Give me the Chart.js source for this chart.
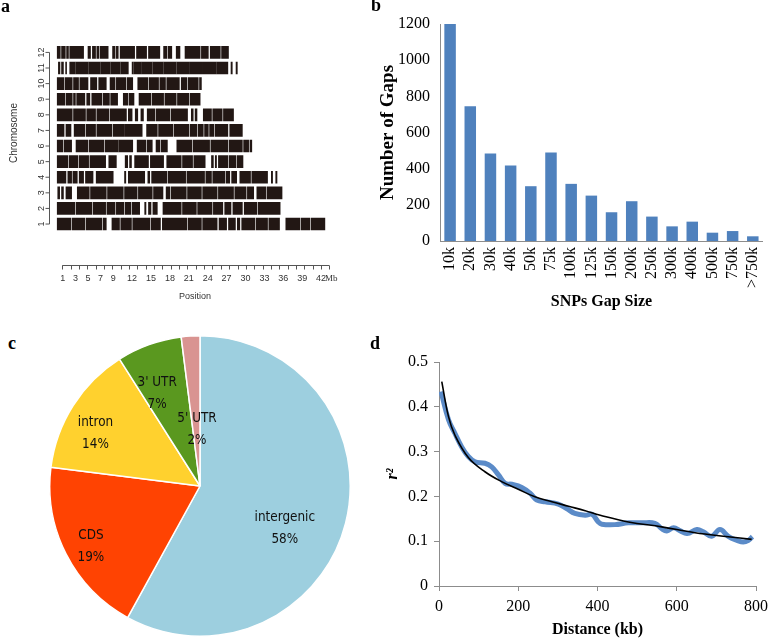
<!DOCTYPE html>
<html>
<head>
<meta charset="utf-8">
<title>SNP density, gap sizes, annotation and LD decay</title>
<script src="https://cdn.jsdelivr.net/npm/chart.js@4.4.1/dist/chart.umd.min.js"></script>
<style>
  html, body { margin: 0; padding: 0; background: #fff; }
  body { position: relative; width: 778px; height: 638px; overflow: hidden; }
  canvas { position: absolute; }
  .tag { position: absolute; z-index: 2; font: bold 18px "Liberation Serif", serif; line-height: 1; color: #000; }
</style>
</head>
<body>
<canvas id="chart-a" width="345" height="310" style="left:0;top:0"></canvas>
<canvas id="chart-b" width="408" height="318" style="left:370px;top:0"></canvas>
<canvas id="chart-c" width="302" height="302" style="left:49px;top:335px"></canvas>
<canvas id="chart-d" width="398" height="308" style="left:380px;top:330px"></canvas>
<div class="tag" style="left:1px;top:-3px">a</div>
<div class="tag" style="left:371px;top:-4px">b</div>
<div class="tag" style="left:8px;top:334px">c</div>
<div class="tag" style="left:370px;top:334px">d</div>
<script>
// --- a: SNP blocks along each chromosome (Mb) ---
const chrNames = ['1','2','3','4','5','6','7','8','9','10','11','12'];
const chr1  = [[0.1,2.3],[2.5,4.5],[4.7,7.2],[7.4,7.9],[8.8,10.0],[10.2,11.9],[12.1,14.8],[15.0,16.5],[16.8,20.7],[20.9,23.0],[23.2,25.5],[25.8,27.0],[27.3,28.4],[28.7,29.1],[29.4,31.5],[31.7,33.5],[33.7,35.4],[36.4,38.6],[38.8,40.2],[40.4,42.6]];
const chr2  = [[0.1,2.9],[3.1,5.6],[5.8,7.8],[8.0,9.3],[9.5,10.7],[10.9,11.8],[12.0,13.2],[14.0,14.2],[14.6,15.0],[15.3,16.0],[16.9,19.8],[20.0,22.2],[22.4,24.7],[24.9,26.4],[26.7,27.7],[28.0,29.5],[29.8,31.8],[32.0,35.5]];
const chr3  = [[0.2,0.5],[0.8,1.1],[1.5,2.4],[3.3,5.2],[5.4,7.9],[8.1,10.6],[10.8,12.8],[13.0,15.2],[15.4,16.9],[17.4,18.0],[18.2,20.6],[20.8,23.0],[23.2,25.5],[25.7,28.1],[28.3,30.1],[30.3,31.3],[31.8,33.2],[33.4,35.8]];
const chr4  = [[0.1,1.5],[1.8,2.4],[2.6,3.3],[3.6,4.3],[4.6,5.8],[6.3,9.0],[10.8,11.0],[11.4,14.0],[14.5,14.8],[15.1,17.5],[17.7,20.5],[20.7,23.5],[23.7,24.6],[24.8,26.7],[26.9,27.5],[27.8,28.6],[29.1,30.8],[31.0,33.5],[34.1,34.3],[34.8,35.0]];
const chr5  = [[0.1,1.8],[2.0,3.4],[3.6,5.1],[5.3,7.8],[8.3,9.5],[10.9,11.3],[11.6,11.9],[12.4,14.6],[14.9,17.0],[17.5,19.8],[20.0,21.6],[21.8,23.6],[24.6,24.9],[25.2,25.4],[25.7,27.2],[27.4,28.5],[28.7,29.6]];
const chr6  = [[0.1,1.0],[1.2,2.4],[3.1,5.0],[5.2,7.5],[7.7,9.8],[9.9,12.1],[12.8,14.2],[14.4,15.2],[15.8,16.4],[16.6,17.6],[19.1,21.5],[21.7,24.3],[24.5,27.2],[27.4,29.5],[29.7,30.5],[30.7,31.0]];
const chr7  = [[0.1,1.2],[1.5,2.3],[2.8,4.5],[4.7,6.2],[6.4,8.8],[9.0,10.8],[10.9,13.6],[14.3,16.0],[16.2,18.5],[18.7,21.0],[21.2,22.3],[22.5,23.3],[23.5,24.1],[24.3,25.0],[25.2,27.2],[27.5,29.5]];
const chr8  = [[0.1,2.5],[2.7,4.6],[4.8,6.2],[6.4,8.3],[8.5,11.1],[11.4,12.0],[12.5,12.9],[13.4,13.8],[14.4,15.6],[15.8,18.0],[18.2,20.8],[21.4,21.7],[22.0,22.3],[23.3,24.6],[24.8,26.3],[26.5,28.1]];
const chr9  = [[0.1,1.3],[1.5,2.5],[2.7,3.0],[3.2,4.5],[4.8,5.3],[5.6,7.2],[7.4,8.4],[8.6,9.7],[10.6,11.3],[11.5,12.3],[13.1,15.0],[15.2,17.0],[17.2,19.0],[19.2,21.0],[21.2,22.8]];
const chr10 = [[0.1,1.2],[1.4,2.5],[2.7,3.5],[3.7,5.0],[5.4,6.4],[6.7,7.9],[8.5,9.3],[9.5,11.0],[11.2,12.1],[12.9,14.5],[14.7,16.2],[16.4,17.3],[17.5,19.5],[19.8,20.7],[20.9,22.5],[22.7,23.0]];
const chr11 = [[0.3,0.55],[0.8,1.1],[1.45,1.6],[2.1,3.0],[3.1,5.0],[5.1,6.9],[7.0,8.5],[8.6,10.1],[10.2,11.4],[12.0,12.2],[12.3,13.5],[13.6,15.2],[15.3,16.9],[17.0,19.0],[19.1,21.0],[21.1,23.2],[23.3,25.3],[25.4,27.2],[27.7,27.9],[28.5,28.7]];
const chr12 = [[0.1,0.6],[0.8,1.4],[1.6,1.9],[2.1,4.3],[5.0,5.4],[5.7,6.2],[6.4,6.7],[6.9,8.2],[8.9,9.3],[9.5,9.8],[10.1,12.4],[12.7,14.3],[14.6,16.4],[17.0,17.5],[17.7,18.3],[19.0,19.6],[20.4,22.8],[23.0,24.1],[24.4,26.0],[26.2,27.3]];
const chrBlocks = [chr1, chr2, chr3, chr4, chr5, chr6, chr7, chr8, chr9, chr10, chr11, chr12];
const posTicks = [1, 3, 5, 7, 9, 12, 15, 18, 21, 24, 27, 30, 33, 36, 39, 42];

// --- b: SNP gap size histogram ---
const gapSizes  = ['10k','20k','30k','40k','50k','75k','100k','125k','150k','200k','250k','300k','400k','500k','750k','>750k'];
const gapCounts = [1200, 745, 484, 417, 303, 489, 316, 251, 159, 220, 135, 81, 107, 46, 55, 26];

// --- c: SNP annotation ---
const regions      = ['intergenic', 'CDS', 'intron', "3' UTR", "5' UTR"];
const regionShares = [58, 19, 14, 7, 2];
const regionColors = ['#9dcfdf', '#ff4302', '#ffd12e', '#5a981f', '#d99491'];
// label placement: [fraction of radius, angle shift in degrees]
const regionLabelPlace = [[0.63, 12], [0.83, -2], [0.78, -5.5], [0.68, -5], [0.38, 0.6]];

// --- d: LD decay ---
const ldDistance = [5, 24, 40, 57, 74, 91, 116, 133, 150, 167, 184, 209, 230, 247, 268, 301, 322, 343, 369, 386, 402, 411, 444, 478, 512, 545, 562, 575, 592, 609, 626, 651, 667, 688, 709, 730, 752, 768, 781, 791];
const ldR2       = [0.434, 0.371, 0.341, 0.311, 0.289, 0.277, 0.274, 0.266, 0.248, 0.229, 0.227, 0.220, 0.207, 0.192, 0.188, 0.183, 0.173, 0.162, 0.158, 0.160, 0.143, 0.138, 0.137, 0.141, 0.141, 0.140, 0.128, 0.123, 0.130, 0.123, 0.117, 0.126, 0.121, 0.111, 0.126, 0.111, 0.102, 0.098, 0.102, 0.110];
const trendDistance = [7, 24, 40, 74, 116, 158, 200, 242, 285, 327, 369, 407, 478, 562, 646, 730, 789];
const trendR2       = [0.456, 0.378, 0.337, 0.287, 0.255, 0.233, 0.216, 0.199, 0.188, 0.178, 0.168, 0.158, 0.143, 0.132, 0.119, 0.110, 0.104];

Chart.defaults.font.family = '"Liberation Serif", serif';
Chart.defaults.color = '#000';
const serif16 = { family: '"Liberation Serif", serif', size: 16 };
const axisGrey = '#8c8c8c';

// R-style axes for panel a (offset y axis, rotated labels, minor ticks)
const rAxes = {
  id: 'rAxes',
  afterDraw(chart) {
    const { ctx, chartArea, scales: { x, y } } = chart;
    ctx.save();
    ctx.strokeStyle = '#555';
    ctx.lineWidth = 1;
    const ax = Math.round(chartArea.left - 7.5) + 0.5;
    ctx.beginPath();
    ctx.moveTo(ax, y.getPixelForValue(1));
    ctx.lineTo(ax, y.getPixelForValue(12));
    chrNames.forEach((n, i) => {
      const py = y.getPixelForValue(i + 1);
      ctx.moveTo(ax, py); ctx.lineTo(ax - 4, py);
    });
    const ay = Math.round(chartArea.bottom) - 0.5;
    const x0 = x.getPixelForValue(0.92), x1 = x.getPixelForValue(43.3);
    ctx.moveTo(x0, ay); ctx.lineTo(x1, ay);
    for (let k = 0; k <= 32; k++) {
      const px = Math.round(x0 + (x1 - x0) * k / 32) + 0.5;
      ctx.moveTo(px, ay); ctx.lineTo(px, ay + 4);
    }
    ctx.stroke();

    ctx.fillStyle = '#333';
    ctx.font = '9px "Liberation Sans", sans-serif';
    ctx.textAlign = 'center';
    ctx.textBaseline = 'middle';
    chrNames.forEach((n, i) => {
      ctx.save();
      ctx.translate(ax - 8, y.getPixelForValue(i + 1));
      ctx.rotate(-Math.PI / 2);
      ctx.fillText(n, 0, 0);
      ctx.restore();
    });
    ctx.save();
    ctx.font = '10px "Liberation Sans", sans-serif';
    ctx.translate(14, 133);
    ctx.rotate(-Math.PI / 2);
    ctx.fillText('Chromosome', 0, 0);
    ctx.restore();
    ctx.font = '9px "Liberation Serif", serif';
    ctx.textAlign = 'left';
    ctx.fillText('Mb', x.getPixelForValue(42) + 4, ay + 13);
    ctx.restore();
  }
};

new Chart(document.getElementById('chart-a'), {
  type: 'bar',
  data: {
    datasets: [{
      data: chrBlocks.flatMap((blocks, i) => blocks.map(b => ({ x: b, y: i + 1 }))),
      backgroundColor: '#221714',
      borderWidth: 0,
      barThickness: 12
    }]
  },
  options: {
    indexAxis: 'y',
    responsive: false,
    animation: false,
    devicePixelRatio: 1,
    layout: { padding: { top: 27.6, right: 11.3, left: 0, bottom: 0 } },
    plugins: { legend: { display: false }, tooltip: { enabled: false } },
    scales: {
      x: {
        type: 'linear', min: 0, max: 44,
        grid: { display: false, drawTicks: false },
        border: { display: false },
        afterBuildTicks: s => { s.ticks = posTicks.map(v => ({ value: v })); },
        ticks: { font: { family: '"Liberation Sans", sans-serif', size: 9 }, color: '#333', padding: 7, maxRotation: 0, autoSkip: false },
        title: { display: true, text: 'Position', color: '#333', font: { family: '"Liberation Sans", sans-serif', size: 9 }, padding: { top: 0, bottom: 7.6 } },
        afterFit: s => { s.height = 44.3; }
      },
      y: {
        type: 'linear', min: -0.58, max: 12.5,
        grid: { display: false, drawTicks: false },
        border: { display: false },
        ticks: { display: false },
        afterFit: s => { s.width = 56.5; }
      }
    }
  },
  plugins: [rAxes]
});

new Chart(document.getElementById('chart-b'), {
  type: 'bar',
  data: {
    labels: gapSizes,
    datasets: [{ data: gapCounts, backgroundColor: '#4f81bd', barPercentage: 0.57, categoryPercentage: 1 }]
  },
  options: {
    responsive: false,
    animation: false,
    devicePixelRatio: 1,
    layout: { padding: { top: 24, right: 0, left: 0, bottom: 0 } },
    plugins: { legend: { display: false }, tooltip: { enabled: false } },
    scales: {
      x: {
        grid: { display: false, drawTicks: false },
        border: { color: axisGrey },
        ticks: { minRotation: 90, maxRotation: 90, autoSkip: false, padding: 6, font: serif16, color: '#000' },
        title: { display: true, text: 'SNPs Gap Size', color: '#000', font: { ...serif16, weight: 'bold' }, padding: { top: 0, bottom: 6.4 } },
        afterFit: s => { s.height = 77; }
      },
      y: {
        min: 0, max: 1200,
        grid: { display: false, drawTicks: false },
        border: { color: axisGrey },
        ticks: { stepSize: 200, padding: 10, font: serif16, color: '#000', callback: v => String(v) },
        title: { display: true, text: 'Number of Gaps', color: '#000', font: { family: '"Liberation Serif", serif', size: 19, weight: 'bold' }, padding: { top: 6.6, bottom: 0 } },
        afterFit: s => { s.width = 70; }
      }
    }
  }
});

const pieLabels = {
  id: 'pieLabels',
  afterDatasetsDraw(chart) {
    const { ctx } = chart;
    const meta = chart.getDatasetMeta(0);
    ctx.save();
    ctx.fillStyle = '#111';
    ctx.font = '14px "DejaVu Sans", sans-serif';
    ctx.textAlign = 'center';
    ctx.textBaseline = 'middle';
    meta.data.forEach((arc, i) => {
      const p = arc.getProps(['x', 'y', 'startAngle', 'endAngle', 'outerRadius'], true);
      const [frac, shift] = regionLabelPlace[i];
      const a = (p.startAngle + p.endAngle) / 2 + shift * Math.PI / 180;
      const r = p.outerRadius * frac;
      ctx.save();
      ctx.translate(p.x + r * Math.cos(a), p.y + r * Math.sin(a));
      ctx.scale(0.86, 1);
      ctx.fillText(regions[i], 0, -11);
      ctx.fillText(regionShares[i] + '%', 0, 11);
      ctx.restore();
    });
    ctx.restore();
  }
};

new Chart(document.getElementById('chart-c'), {
  type: 'pie',
  data: {
    labels: regions,
    datasets: [{ data: regionShares, backgroundColor: regionColors, borderColor: '#fff', borderWidth: 1.5 }]
  },
  options: {
    responsive: false,
    animation: false,
    devicePixelRatio: 1,
    layout: { padding: 0 },
    plugins: { legend: { display: false }, tooltip: { enabled: false } }
  },
  plugins: [pieLabels]
});

new Chart(document.getElementById('chart-d'), {
  type: 'line',
  data: {
    datasets: [
      {
        data: trendDistance.map((d, i) => ({ x: d, y: trendR2[i] })),
        borderColor: '#000', borderWidth: 1.6, pointRadius: 0, tension: 0.4, fill: false, order: 0
      },
      {
        data: ldDistance.map((d, i) => ({ x: d, y: ldR2[i] })),
        borderColor: '#5b8bc8', borderWidth: 5, pointRadius: 0, tension: 0.4, fill: false, order: 1
      }
    ]
  },
  options: {
    responsive: false,
    animation: false,
    devicePixelRatio: 1,
    layout: { padding: { top: 32, right: 22, left: 0, bottom: 0 } },
    plugins: { legend: { display: false }, tooltip: { enabled: false } },
    scales: {
      x: {
        type: 'linear', min: 0, max: 800,
        grid: { drawOnChartArea: false, drawTicks: true, tickLength: 5, color: axisGrey },
        border: { color: axisGrey },
        ticks: { stepSize: 200, padding: 6, font: serif16, color: '#000' },
        title: { display: true, text: 'Distance (kb)', color: '#000', font: { ...serif16, weight: 'bold', lineHeight: 1 }, padding: 0 },
        afterFit: s => { s.height = 52; }
      },
      y: {
        min: 0, max: 0.5,
        grid: { drawOnChartArea: false, drawTicks: true, tickLength: 5, color: axisGrey },
        border: { color: axisGrey },
        ticks: { stepSize: 0.1, padding: 6, font: serif16, color: '#000' },
        title: { display: true, text: 'r²', color: '#000', font: { ...serif16, weight: 'bold', style: 'italic' }, padding: { top: 3.4, bottom: 0 } },
        afterFit: s => { s.width = 59; }
      }
    }
  }
});
</script>
</body>
</html>
